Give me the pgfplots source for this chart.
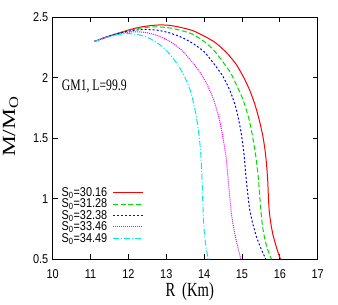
\documentclass[border=0pt]{standalone}
\usepackage{fontspec}
\usepackage{graphicx}
\setmainfont{Liberation Serif}[FakeStretch=0.73]
\newfontfamily\sansf{Liberation Sans}[FakeStretch=0.85]
\newfontfamily\serifplain{Liberation Serif}
\usepackage{pgfplots}
\pgfplotsset{compat=1.18}
\definecolor{cgreen}{RGB}{0,220,0}
\definecolor{cmag}{RGB}{255,0,255}
\definecolor{ccyan}{RGB}{0,235,235}
\begin{document}
\begin{tikzpicture}
\useasboundingbox (-52.7pt,-45.7pt) rectangle (285.3pt,259.3pt);
\begin{axis}[
  at={(0pt,0pt)}, anchor=south west,
  scale only axis, width=265pt, height=242pt,
  xmin=10, xmax=17, ymin=0.5, ymax=2.5,
  xtick={10,11,12,13,14,15,16,17}, ytick={0.5,1,1.5,2,2.5},
  tick align=inside, xtick pos=both, ytick pos=both,
  major tick length=5pt, minor tick num=0,
  /pgf/number format/assume math mode=true,
  ticklabel style={font=\fontsize{12.8}{14}\sansf},
  xticklabel style={yshift=-6.5pt},
  yticklabel style={xshift=-1pt},
  axis line style={line width=0.8pt},
  every tick/.style={black, line width=0.8pt},
  xlabel={R\, (Km)},
  ylabel={\scalebox{1.26}[1]{\fontsize{18.6}{20}\serifplain M/M\raisebox{-0.35ex}{\fontsize{13}{14}\selectfont O}}},
  every axis x label/.style={at={(axis description cs:0.517,-0.1517)}, anchor=base, font=\fontsize{20}{22}\selectfont},
  every axis y label/.style={at={(axis description cs:-0.142,0.547)}, anchor=base, rotate=90},
  legend style={at={(axis description cs:0.031,0.062)}, anchor=south west, draw=none, fill=none,
    inner sep=0pt, row sep=0pt, column sep=5pt, font=\fontsize{12.8}{13}\sansf, nodes={inner sep=0.5pt}},
  legend plot pos=right, legend cell align=left,
  legend image code/.code={\draw[#1] (0pt,0pt) -- (30pt,0pt);},
]
\addplot[red, line width=1pt, smooth, tension=0.4] coordinates {
(11.10,2.300) (11.40,2.335) (11.70,2.365) (12.00,2.395) (12.30,2.418) (12.60,2.432) (12.85,2.437) (13.10,2.433) (13.40,2.415) (13.70,2.390) (14.00,2.345) (14.30,2.290) (14.60,2.205) (14.85,2.110) (15.05,2.000) (15.20,1.900) (15.33,1.790) (15.45,1.660) (15.55,1.520) (15.61,1.400) (15.65,1.280) (15.68,1.150) (15.70,1.000) (15.72,0.900) (15.76,0.800) (15.82,0.700) (15.90,0.610) (15.96,0.550) (16.02,0.500)};
\addlegendentry{S\textsubscript{0}=30.16}
\addplot[cgreen, line width=1pt, smooth, tension=0.4, dash pattern=on 5pt off 2.5pt] coordinates {
(11.10,2.300) (11.40,2.335) (11.70,2.365) (12.00,2.390) (12.30,2.410) (12.60,2.420) (12.80,2.421) (13.10,2.412) (13.40,2.390) (13.70,2.360) (14.00,2.300) (14.25,2.230) (14.50,2.130) (14.70,2.040) (14.90,1.910) (15.05,1.800) (15.20,1.640) (15.30,1.480) (15.37,1.340) (15.43,1.180) (15.47,1.020) (15.50,0.900) (15.54,0.780) (15.60,0.670) (15.68,0.580) (15.78,0.500)};
\addlegendentry{S\textsubscript{0}=31.28}
\addplot[blue, line width=1pt, smooth, tension=0.4, dash pattern=on 2pt off 2pt] coordinates {
(11.10,2.300) (11.40,2.335) (11.70,2.365) (12.00,2.385) (12.30,2.398) (12.50,2.400) (12.80,2.392) (13.10,2.370) (13.40,2.335) (13.70,2.285) (14.00,2.215) (14.25,2.120) (14.50,2.010) (14.70,1.880) (14.85,1.740) (14.97,1.560) (15.05,1.380) (15.10,1.200) (15.15,1.050) (15.20,0.920) (15.28,0.800) (15.38,0.690) (15.50,0.590) (15.63,0.500)};
\addlegendentry{S\textsubscript{0}=32.38}
\addplot[cmag, line width=1pt, smooth, tension=0.4, dash pattern=on 1pt off 1pt] coordinates {
(11.10,2.300) (11.40,2.333) (11.70,2.360) (12.00,2.377) (12.25,2.380) (12.50,2.372) (12.80,2.345) (13.10,2.300) (13.40,2.230) (13.70,2.125) (13.90,2.040) (14.10,1.930) (14.25,1.820) (14.40,1.660) (14.50,1.500) (14.58,1.340) (14.63,1.180) (14.67,1.040) (14.72,0.880) (14.78,0.760) (14.86,0.640) (14.97,0.500)};
\addlegendentry{S\textsubscript{0}=33.46}
\addplot[ccyan, line width=1pt, smooth, tension=0.4, dash pattern=on 6pt off 2pt on 1pt off 2pt] coordinates {
(11.10,2.300) (11.40,2.330) (11.70,2.355) (11.95,2.365) (12.20,2.360) (12.50,2.335) (12.80,2.280) (13.05,2.210) (13.30,2.110) (13.50,2.000) (13.65,1.880) (13.77,1.720) (13.86,1.540) (13.91,1.380) (13.94,1.200) (13.96,1.020) (13.98,0.850) (14.01,0.700) (14.05,0.600) (14.11,0.500)};
\addlegendentry{S\textsubscript{0}=34.49}
\node[anchor=west, inner sep=0pt, font=\fontsize{16}{18}\selectfont] at (axis cs:10.24,1.93) {GM1, L=99.9};
\end{axis}
\end{tikzpicture}
\end{document}
